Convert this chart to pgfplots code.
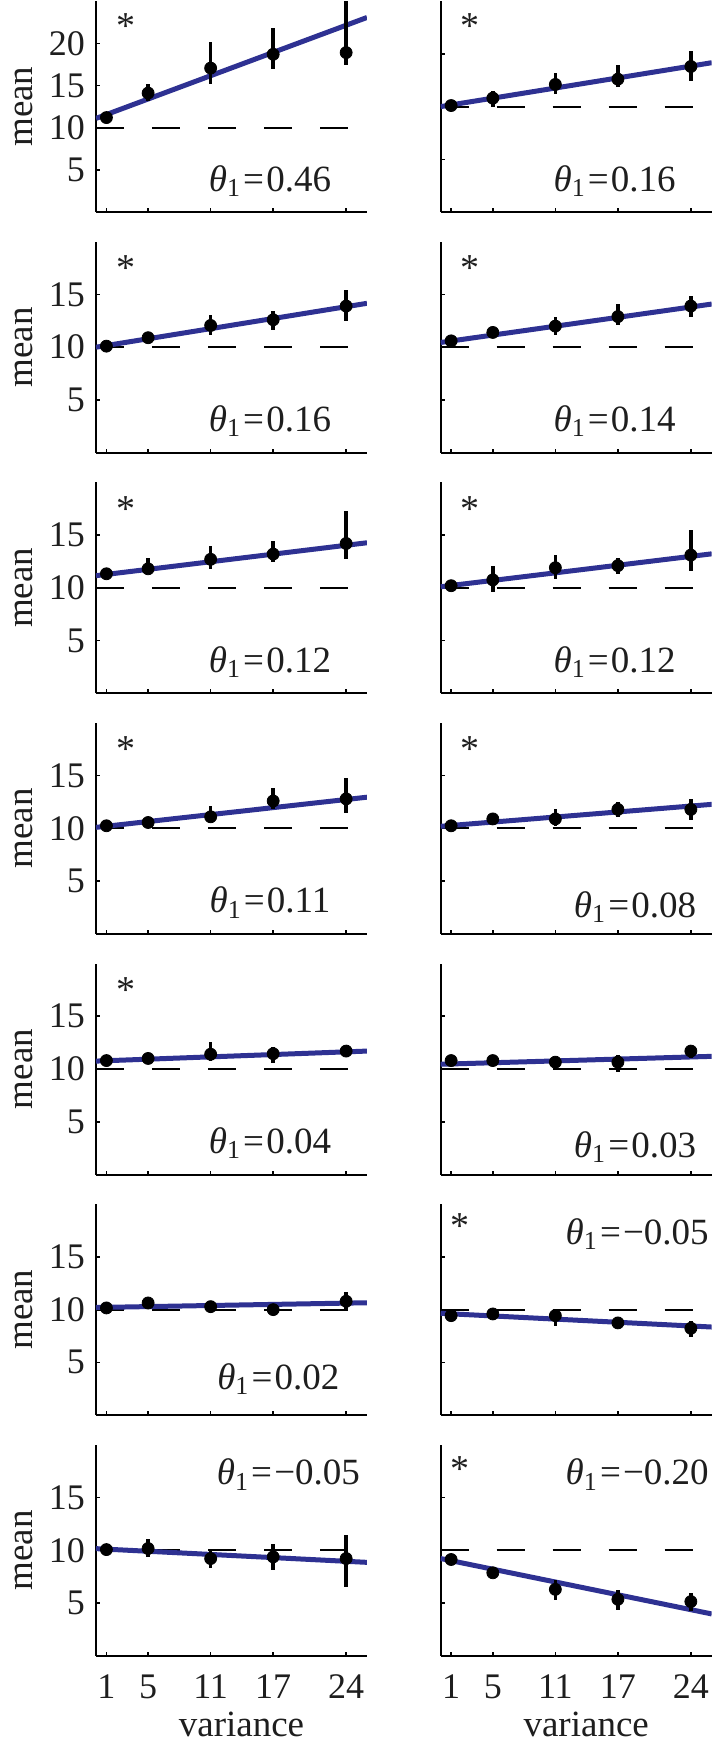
\documentclass[border=0pt]{standalone}
\usepackage{fontspec}
\setmainfont{Liberation Serif}
\usepackage{pgfplots}
\pgfplotsset{compat=1.18}
\definecolor{fitblue}{RGB}{46,49,146}
\definecolor{txt}{RGB}{30,30,30}
\newcommand{\thlab}[1]{\textit{θ}\textsubscript{1}\kern0.06em=\kern0.06em#1}
\tikzset{
  thnode/.style={anchor=base, font=\fontsize{18.5}{18.5}\selectfont, text=txt},
  starnode/.style={anchor=center, font=\fontsize{19}{19}\selectfont, text=txt},
}
\pgfplotsset{
  panel/.style={
    scale only axis, width=135.5pt, height=105.5pt, anchor=south west,
    xmin=0, xmax=26, ymin=0, ymax=20,
    axis lines*=left,
    axis line style={line width=1pt, black},
    xtick={1,5,11,17,24}, ytick={5,10,15},
    tick align=inside, major tick length=2pt,
    tick style={line width=0.8pt, black},
    xticklabels={}, yticklabels={},
    /pgf/number format/assume math mode=true,
    tick label style={font=\fontsize{18}{18}\selectfont, text=txt},
    label style={font=\fontsize{18.5}{18.5}\selectfont, text=txt},
    yticklabel style={xshift=-2.0pt},
    xticklabel style={yshift=-6pt},
  },
  leftcol/.style={yticklabels={5,10,15}, ylabel={mean},
    ylabel style={at={(axis description cs:-0.2325,0.5)}, anchor=base}},
  botrow/.style={xticklabels={1,5,11,17,24}, xlabel={variance},
    xlabel style={at={(axis description cs:0.5,0)}, anchor=base, yshift=-40.5pt, xshift=5pt}},
  dashl/.style={black, line width=1pt, dash pattern=on 14pt off 14pt},
  fitl/.style={fitblue, line width=2.5pt},
  pts/.style={only marks, mark=*, mark size=3.0pt, black, mark options={fill=black},
    error bars/.cd, y dir=both, y explicit, error bar style={line width=1.7pt, black}, error mark=none},
}
\begin{document}
\begin{tikzpicture}
\path[use as bounding box] (0,0) rectangle (360.5pt,-872.5pt);

% Row 1 left
\begin{axis}[panel, leftcol, at={(48pt,-106.05pt)}, ymax=25, ytick={5,10,15,20}, yticklabels={5,10,15,20}]
\addplot[dashl] coordinates {(0,10) (26,10)};
\addplot[fitl] coordinates {(0,11.1) (26,23.06)};
\addplot[pts] coordinates {(1,11.2) += (0,0) -= (0,0) (5,14.1) += (0,1.1) -= (0,0.9) (11,17.06) += (0,3.1) -= (0,1.9) (17,18.7) += (0,3.1) -= (0,1.7) (24,18.9) += (0,7) -= (0,1.5)};
\node[starnode] at (axis description cs:0.11,0.88) {*};
\node[thnode] at (axis description cs:0.642,0.1) {\thlab{0.46}};
\end{axis}
% Row 1 right
\begin{axis}[panel, at={(220.35pt,-106.05pt)}]
\addplot[dashl] coordinates {(0,10) (26,10)};
\addplot[fitl] coordinates {(0,10.0) (26,14.16)};
\addplot[pts] coordinates {(1,10.1) += (0,0) -= (0,0) (5,10.8) += (0,0.7) -= (0,0.8) (11,12.1) += (0,1.1) -= (0,0.9) (17,12.6) += (0,1.35) -= (0,0.75) (24,13.8) += (0,1.45) -= (0,1.4)};
\node[starnode] at (axis description cs:0.108,0.88) {*};
\node[thnode] at (axis description cs:0.642,0.1) {\thlab{0.16}};
\end{axis}

% Row 2 left
\begin{axis}[panel, leftcol, at={(48pt,-226.35pt)}]
\addplot[dashl] coordinates {(0,10) (26,10)};
\addplot[fitl] coordinates {(0,10.0) (26,14.16)};
\addplot[pts] coordinates {(1,10.1) += (0,0) -= (0,0) (5,10.9) += (0,0) -= (0,0) (11,12.06) += (0,1.0) -= (0,0.95) (17,12.6) += (0,0.8) -= (0,1.0) (24,13.9) += (0,1.5) -= (0,1.4)};
\node[starnode] at (axis description cs:0.11,0.875) {*};
\node[thnode] at (axis description cs:0.642,0.1) {\thlab{0.16}};
\end{axis}
% Row 2 right
\begin{axis}[panel, at={(220.35pt,-226.35pt)}]
\addplot[dashl] coordinates {(0,10) (26,10)};
\addplot[fitl] coordinates {(0,10.45) (26,14.09)};
\addplot[pts] coordinates {(1,10.6) += (0,0) -= (0,0) (5,11.4) += (0,0) -= (0,0) (11,12.0) += (0,0.9) -= (0,0.8) (17,12.9) += (0,1.2) -= (0,0.8) (24,13.9) += (0,1.0) -= (0,1.0)};
\node[starnode] at (axis description cs:0.108,0.875) {*};
\node[thnode] at (axis description cs:0.642,0.1) {\thlab{0.14}};
\end{axis}

% Row 3 left
\begin{axis}[panel, leftcol, at={(48pt,-346.65pt)}]
\addplot[dashl] coordinates {(0,10) (26,10)};
\addplot[fitl] coordinates {(0,11.15) (26,14.27)};
\addplot[pts] coordinates {(1,11.33) += (0,0) -= (0,0) (5,11.8) += (0,1.0) -= (0,0.4) (11,12.7) += (0,1.3) -= (0,0.9) (17,13.2) += (0,1.2) -= (0,0.8) (24,14.2) += (0,3.05) -= (0,1.5)};
\node[starnode] at (axis description cs:0.11,0.875) {*};
\node[thnode] at (axis description cs:0.642,0.1) {\thlab{0.12}};
\end{axis}
% Row 3 right
\begin{axis}[panel, at={(220.35pt,-346.65pt)}]
\addplot[dashl] coordinates {(0,10) (26,10)};
\addplot[fitl] coordinates {(0,10.1) (26,13.22)};
\addplot[pts] coordinates {(1,10.2) += (0,0) -= (0,0) (5,10.75) += (0,1.35) -= (0,1.15) (11,11.9) += (0,1.2) -= (0,1.1) (17,12.1) += (0,0.7) -= (0,0.8) (24,13.1) += (0,2.4) -= (0,1.5)};
\node[starnode] at (axis description cs:0.108,0.875) {*};
\node[thnode] at (axis description cs:0.642,0.1) {\thlab{0.12}};
\end{axis}

% Row 4 left
\begin{axis}[panel, leftcol, at={(48pt,-466.95pt)}]
\addplot[dashl] coordinates {(0,10) (26,10)};
\addplot[fitl] coordinates {(0,10.1) (26,12.96)};
\addplot[pts] coordinates {(1,10.25) += (0,0) -= (0,0) (5,10.56) += (0,0) -= (0,0) (11,11.1) += (0,1.0) -= (0,0.45) (17,12.6) += (0,1.2) -= (0,0.8) (24,12.8) += (0,2.0) -= (0,1.3)};
\node[starnode] at (axis description cs:0.11,0.875) {*};
\node[thnode] at (axis description cs:0.642,0.1) {\thlab{0.11}};
\end{axis}
% Row 4 right
\begin{axis}[panel, at={(220.35pt,-466.95pt)}]
\addplot[dashl] coordinates {(0,10) (26,10)};
\addplot[fitl] coordinates {(0,10.2) (26,12.28)};
\addplot[pts] coordinates {(1,10.25) += (0,0) -= (0,0) (5,10.9) += (0,0) -= (0,0) (11,10.9) += (0,0.9) -= (0,0.7) (17,11.8) += (0,0.7) -= (0,0.7) (24,11.8) += (0,1.0) -= (0,1.0)};
\node[starnode] at (axis description cs:0.108,0.875) {*};
\node[thnode] at (axis description cs:0.717,0.08) {\thlab{0.08}};
\end{axis}

% Row 5 left
\begin{axis}[panel, leftcol, at={(48pt,-587.25pt)}]
\addplot[dashl] coordinates {(0,10) (26,10)};
\addplot[fitl] coordinates {(0,10.75) (26,11.7)};
\addplot[pts] coordinates {(1,10.8) += (0,0) -= (0,0) (5,11.0) += (0,0) -= (0,0) (11,11.4) += (0,1.2) -= (0,0.6) (17,11.45) += (0,0.65) -= (0,0.85) (24,11.7) += (0,0) -= (0,0)};
\node[starnode] at (axis description cs:0.11,0.875) {*};
\node[thnode] at (axis description cs:0.642,0.1) {\thlab{0.04}};
\end{axis}
% Row 5 right
\begin{axis}[panel, at={(220.35pt,-587.25pt)}]
\addplot[dashl] coordinates {(0,10) (26,10)};
\addplot[fitl] coordinates {(0,10.45) (26,11.2)};
\addplot[pts] coordinates {(1,10.8) += (0,0) -= (0,0) (5,10.8) += (0,0) -= (0,0) (11,10.65) += (0,0) -= (0,0) (17,10.65) += (0,0.7) -= (0,0.9) (24,11.7) += (0,0.4) -= (0,0.7)};
\node[thnode] at (axis description cs:0.717,0.08) {\thlab{0.03}};
\end{axis}

% Row 6 left
\begin{axis}[panel, leftcol, at={(48pt,-707.55pt)}]
\addplot[dashl] coordinates {(0,10) (26,10)};
\addplot[fitl] coordinates {(0,10.2) (26,10.65)};
\addplot[pts] coordinates {(1,10.16) += (0,0) -= (0,0) (5,10.63) += (0,0) -= (0,0) (11,10.28) += (0,0) -= (0,0) (17,10.0) += (0,0) -= (0,0) (24,10.79) += (0,0.9) -= (0,0.75)};
\node[thnode] at (axis description cs:0.673,0.12) {\thlab{0.02}};
\end{axis}
% Row 6 right
\begin{axis}[panel, at={(220.35pt,-707.55pt)}]
\addplot[dashl] coordinates {(0,10) (26,10)};
\addplot[fitl] coordinates {(0,9.65) (26,8.35)};
\addplot[pts] coordinates {(1,9.43) += (0,0) -= (0,0) (5,9.59) += (0,0) -= (0,0) (11,9.43) += (0,0.63) -= (0,0.94) (17,8.74) += (0,0) -= (0,0) (24,8.23) += (0,0.73) -= (0,0.85)};
\node[starnode] at (axis description cs:0.071,0.897) {*};
\node[thnode] at (axis description cs:0.725,0.81) {\thlab{−0.05}};
\end{axis}

% Row 7 left
\begin{axis}[panel, leftcol, botrow, at={(48pt,-827.85pt)}]
\addplot[dashl] coordinates {(0,10) (26,10)};
\addplot[fitl] coordinates {(0,10.15) (26,8.85)};
\addplot[pts] coordinates {(1,10.06) += (0,0) -= (0,0) (5,10.16) += (0,0.94) -= (0,0.79) (11,9.21) += (0,0.79) -= (0,0.94) (17,9.37) += (0,1.26) -= (0,1.26) (24,9.21) += (0,2.19) -= (0,2.67)};
\node[thnode] at (axis description cs:0.71,0.81) {\thlab{−0.05}};
\end{axis}
% Row 7 right
\begin{axis}[panel, botrow, at={(220.35pt,-827.85pt)}]
\addplot[dashl] coordinates {(0,10) (26,10)};
\addplot[fitl] coordinates {(0,9.21) (26,3.96)};
\addplot[pts] coordinates {(1,9.12) += (0,0) -= (0,0) (5,7.86) += (0,0) -= (0,0) (11,6.29) += (0,0.88) -= (0,1.01) (17,5.35) += (0,0.88) -= (0,1.01) (24,5.13) += (0,0.78) -= (0,0.88)};
\node[starnode] at (axis description cs:0.07,0.885) {*};
\node[thnode] at (axis description cs:0.725,0.81) {\thlab{−0.20}};
\end{axis}
\end{tikzpicture}
\end{document}
